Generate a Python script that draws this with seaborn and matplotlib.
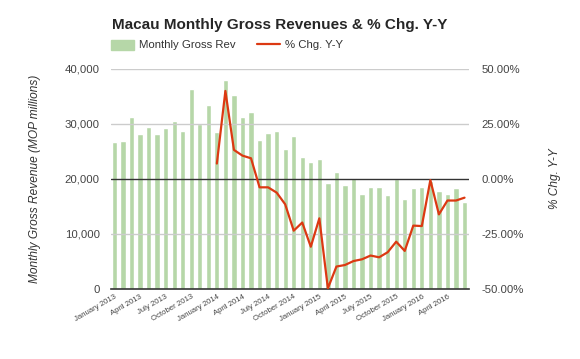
import matplotlib
matplotlib.use("Agg")
import matplotlib.pyplot as plt
import seaborn as sns
import numpy as np
import pandas as pd
from matplotlib.patches import Patch
from matplotlib.lines import Line2D

# monthly gross gaming revenue, MOP millions, Jan 2013 - Jun 2016
revenue = [26740, 26920, 31280, 28130, 29520, 28130, 29340, 30550, 28800, 36360, 30010, 33390,
           28610, 37930, 35330, 31280, 32120, 27100, 28310, 28800, 25470, 27890, 24020, 23170,
           23590, 19300, 21230, 18940, 20210, 17240, 18450, 18450, 17000, 19960, 16330, 18270,
           18450, 19600, 17730, 17240, 18270, 15850]
# % change year over year (starts Jan 2014)
pct_chg = [None] * 12 + [7.0, 40.0, 13.2, 10.6, 9.4, -3.8, -3.8, -6.2, -11.5, -23.5, -19.8, -30.8,
                         -17.9, -49.7, -39.8, -39.1, -37.3, -36.5, -34.8, -35.6, -33.3, -28.5, -32.7, -21.2,
                         -21.4, -0.5, -16.1, -9.8, -9.8, -8.5]
tick_labels = ["January 2013", "April 2013", "July 2013", "October 2013",
               "January 2014", "April 2014", "July 2014", "October 2014",
               "January 2015", "April 2015", "July 2015", "October 2015",
               "January 2016", "April 2016"]

df = pd.DataFrame({"month": np.arange(len(revenue)), "rev": revenue,
                   "pct": [np.nan if v is None else v for v in pct_chg]})

sns.set_style("white")
plt.rcParams["font.family"] = ["Liberation Sans", "DejaVu Sans"]

green = "#b6d7a8"
red = "#dc3912"
grey = "#444444"

fig = plt.figure(figsize=(5.8, 3.59), dpi=100)
ax = fig.add_axes([0.191, 0.195, 0.618, 0.613])

sns.barplot(data=df, x="month", y="rev", color=green, saturation=1, width=0.62, ax=ax, zorder=2)
ax.set_ylim(0, 40000)
ax.set_xlim(-0.42, 41.55)
ax.set_yticks([0, 10000, 20000, 30000, 40000])
ax.set_yticklabels(["0", "10,000", "20,000", "30,000", "40,000"])
# grid lines sit on top of the bars, as in the original
for y in [10000, 30000, 40000]:
    ax.axhline(y, color="#cccccc", lw=1, zorder=3)
ax.axhline(20000, color="#333333", lw=1, zorder=3)
ax.set_xticks(range(0, 42, 3))
ax.set_xticklabels(tick_labels, rotation=30, ha="right", rotation_mode="anchor",
                   fontsize=5.6, color=grey)
ax.tick_params(axis="x", length=0, pad=3)
ax.tick_params(axis="y", length=0, pad=8, labelsize=8.2, labelcolor=grey)
ax.set_xlabel("")
ax.set_ylabel("Monthly Gross Revenue (MOP millions)", style="italic", fontsize=8.6,
              color="#333333", labelpad=17)
for s in ["top", "right", "left"]:
    ax.spines[s].set_visible(False)
ax.spines["bottom"].set_color("#333333")
ax.spines["bottom"].set_linewidth(1.2)
ax.spines["bottom"].set_zorder(4)

ax2 = ax.twinx()
sns.lineplot(data=df, x="month", y="pct", color=red, lw=1.6, ax=ax2)
ax2.set_ylim(-50, 50)
ax2.set_xlim(-0.42, 41.55)
ax2.set_yticks([-50, -25, 0, 25, 50])
ax2.set_yticklabels(["-50.00%", "-25.00%", "0.00%", "25.00%", "50.00%"])
ax2.tick_params(axis="y", length=0, pad=9, labelsize=8.2, labelcolor=grey)
ax2.set_ylabel("% Chg. Y-Y", style="italic", fontsize=8.6, color="#333333", labelpad=18)
for s in ["top", "right", "left", "bottom"]:
    ax2.spines[s].set_visible(False)

fig.text(0.193, 1 - 29 / 359, "Macau Monthly Gross Revenues & % Chg. Y-Y",
         fontsize=11, weight="bold", va="baseline", ha="left")

handles = [Patch(color=green), Line2D([], [], color=red, lw=1.6)]
fig.legend(handles, ["Monthly Gross Rev", "% Chg. Y-Y"], loc="center left",
           bbox_to_anchor=(0.174, 1 - 45 / 359), ncol=2, frameon=False, fontsize=8.2,
           handlelength=2.0, handleheight=1.0, columnspacing=1.9, handletextpad=0.45,
           labelcolor="#333333")

fig.savefig("out.png", dpi=100)
